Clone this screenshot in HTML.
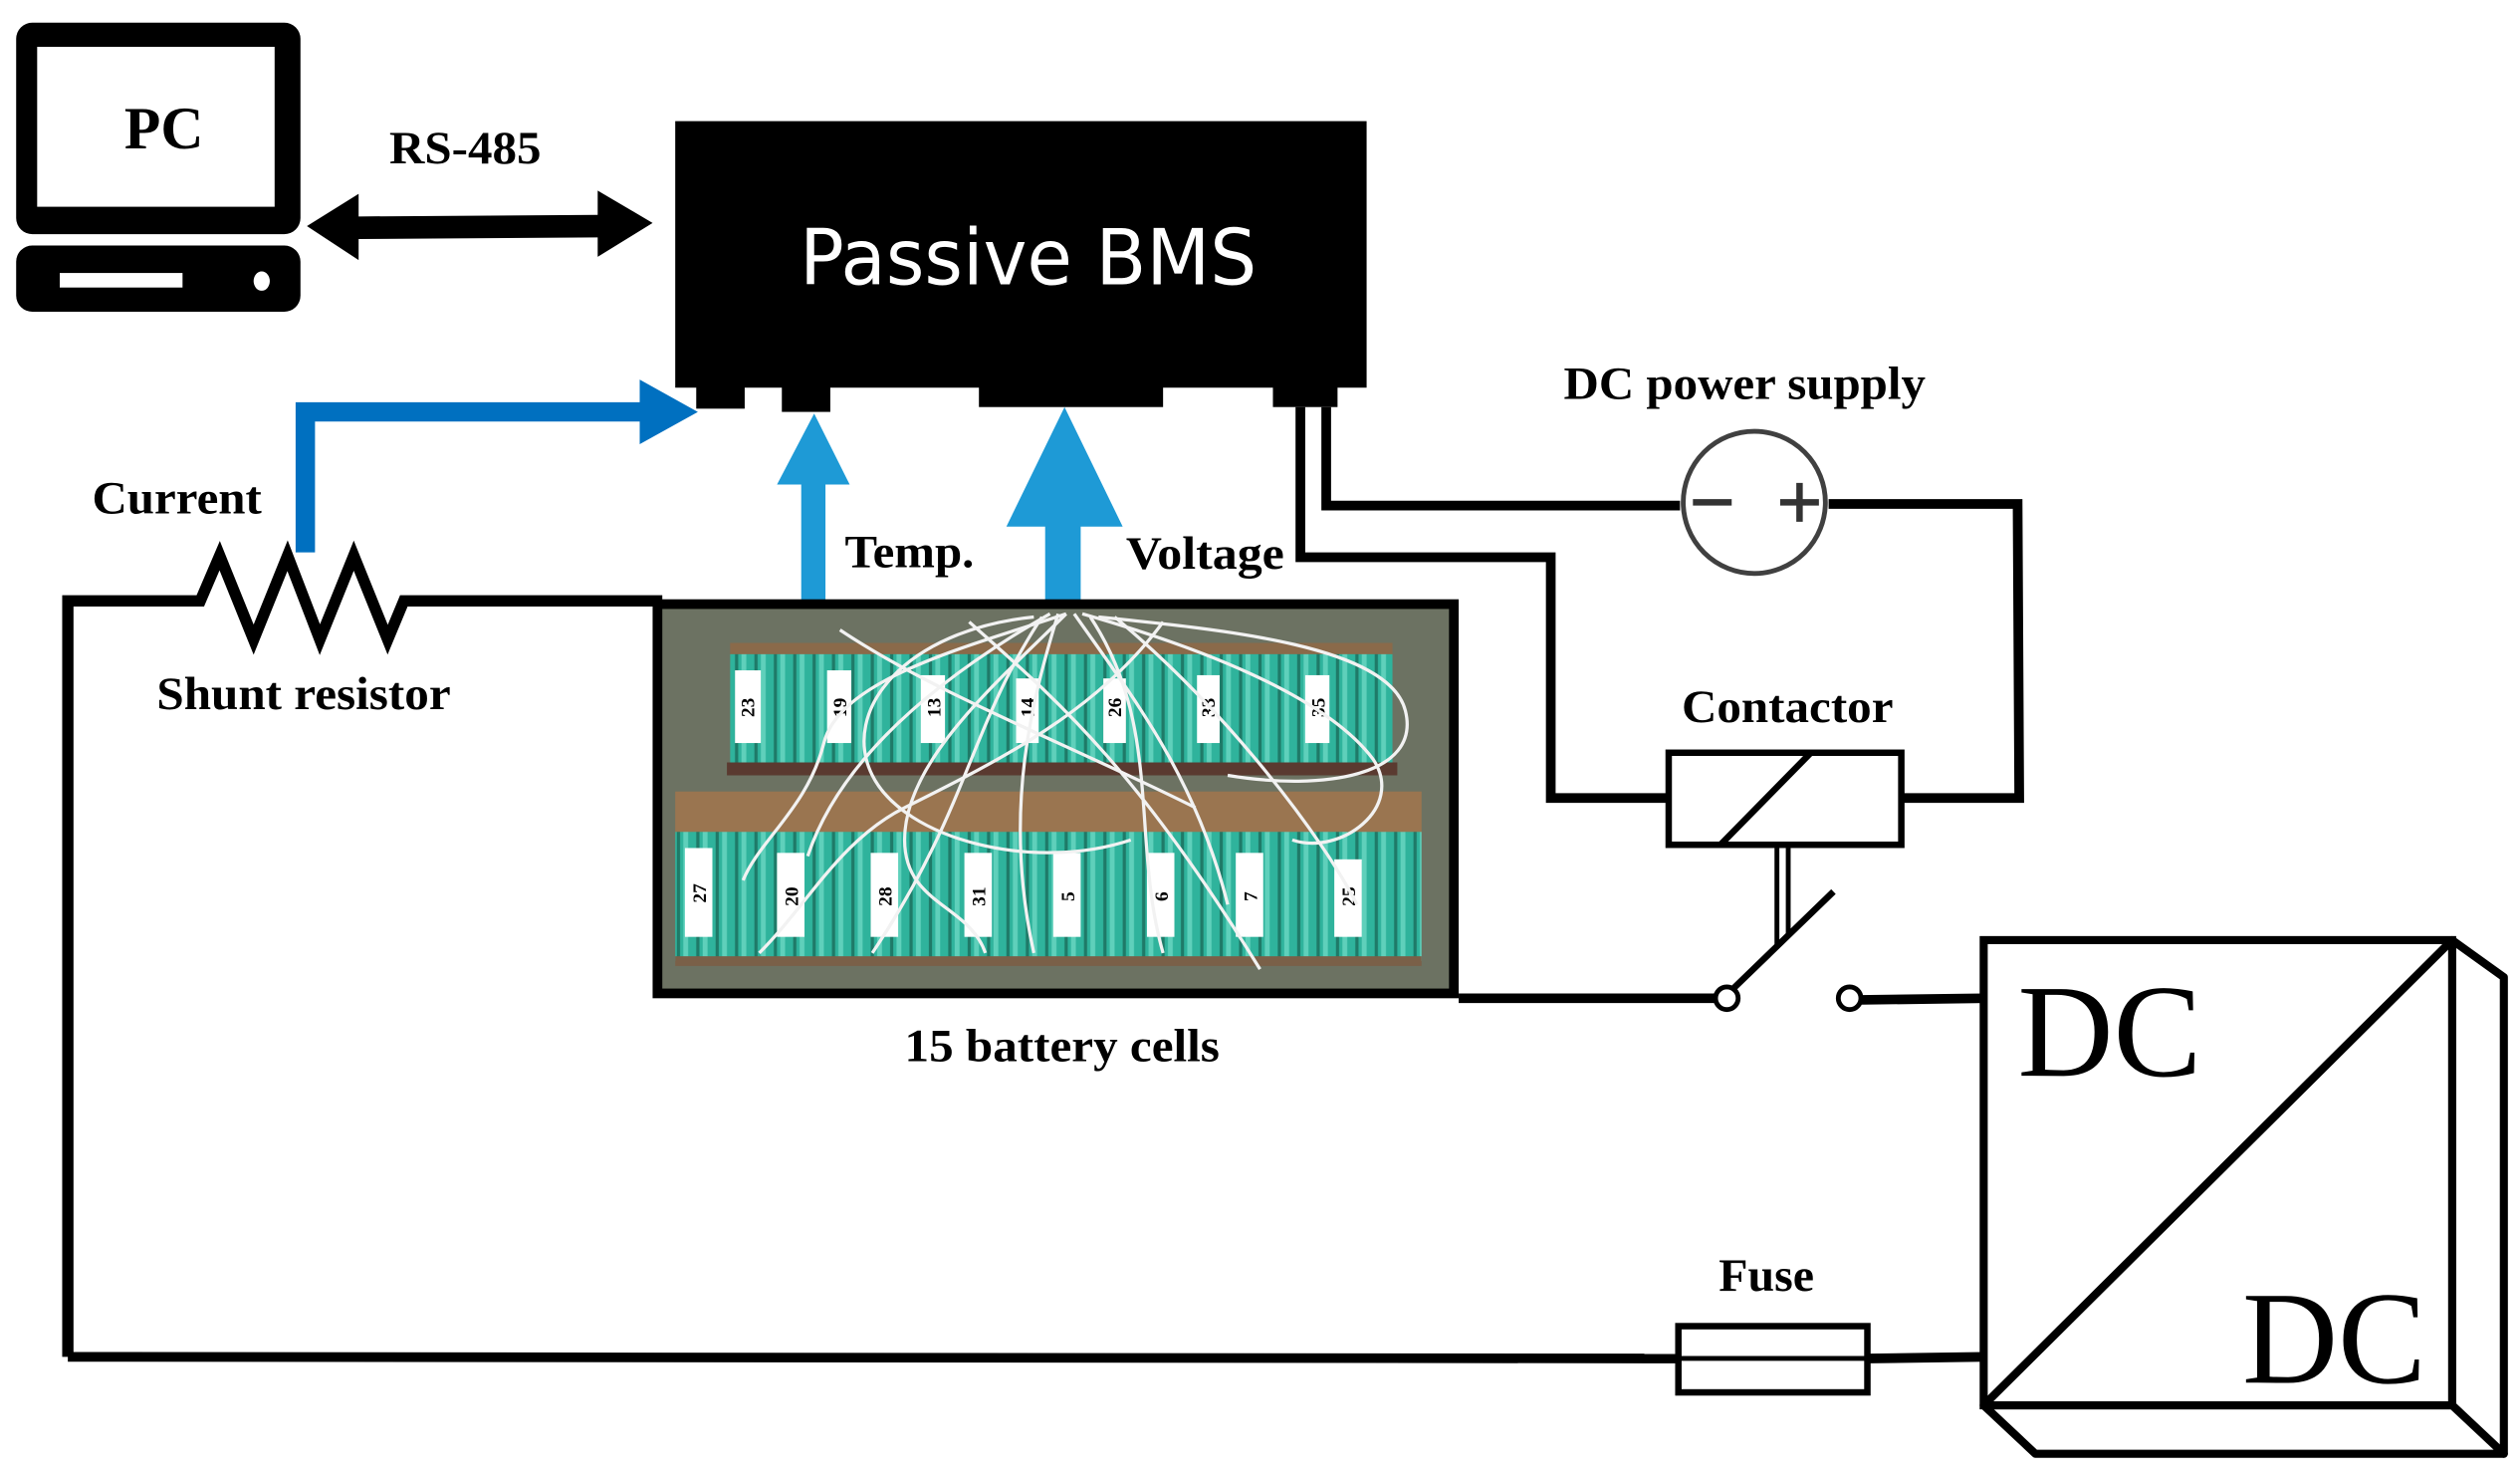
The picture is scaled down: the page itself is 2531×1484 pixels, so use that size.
<!DOCTYPE html>
<html><head><meta charset="utf-8"><style>
html,body{margin:0;padding:0;background:#fff;}
svg{display:block;}
text{font-family:"Liberation Serif",serif;font-weight:bold;fill:#000;}
</style></head><body>
<svg width="2531" height="1484" viewBox="0 0 1560 915" preserveAspectRatio="none" xmlns="http://www.w3.org/2000/svg">
<defs>
<pattern id="cellsT" x="0" y="0" width="12" height="100" patternUnits="userSpaceOnUse">
<rect x="0" y="0" width="12" height="100" fill="#1f7a68"/>
<rect x="1" y="0" width="10" height="100" fill="#2fb39c"/>
<rect x="3" y="0" width="3" height="100" fill="#5fd0bb"/>
</pattern>
</defs>
<rect width="1560" height="915" fill="#fff"/>
<!-- PC -->
<rect x="10" y="14" width="176" height="131" rx="10" fill="#000"/>
<rect x="23" y="29" width="147" height="99" fill="#fff"/>
<rect x="10" y="152" width="176" height="41" rx="10" fill="#000"/>
<rect x="37" y="169" width="76" height="9" fill="#fff"/>
<ellipse cx="162" cy="174" rx="5" ry="6" fill="#fff"/>
<text x="77" y="92" font-size="37" textLength="49" lengthAdjust="spacingAndGlyphs">PC</text>
<text x="241" y="101" font-size="29" textLength="94" lengthAdjust="spacingAndGlyphs">RS-485</text>
<!-- double arrow -->
<polygon points="190,140 222,120 222,134 370,133 370,118 404,138 370,159 370,147 222,148 222,161" fill="#000"/>
<!-- BMS -->
<rect x="418" y="75" width="428" height="165" fill="#000"/>
<rect x="431" y="238" width="30" height="15" fill="#000"/>
<rect x="484" y="238" width="30" height="17" fill="#000"/>
<rect x="606" y="238" width="114" height="14" fill="#000"/>
<rect x="788" y="238" width="40" height="14" fill="#000"/>
<text x="495" y="176" font-size="48" textLength="283" lengthAdjust="spacingAndGlyphs" style="font-family:'DejaVu Sans','Liberation Sans',sans-serif;font-weight:normal;fill:#fff">Passive BMS</text>
<!-- current arrow -->
<polyline points="189,342 189,255 398,255" fill="none" stroke="#0070c0" stroke-width="12"/>
<polygon points="396,235 432,255 396,275" fill="#0070c0"/>
<!-- temp arrow -->
<rect x="496" y="298" width="15" height="74" fill="#1e9ad6"/>
<polygon points="481,300 504,256 526,300" fill="#1e9ad6"/>
<!-- voltage arrow -->
<rect x="647" y="322" width="22" height="50" fill="#1e9ad6"/>
<polygon points="623,326 659,252 695,326" fill="#1e9ad6"/>
<text x="57" y="318" font-size="29" textLength="105" lengthAdjust="spacingAndGlyphs">Current</text>
<text x="523" y="351" font-size="29" textLength="80" lengthAdjust="spacingAndGlyphs">Temp.</text>
<text x="697" y="352" font-size="29" textLength="98" lengthAdjust="spacingAndGlyphs">Voltage</text>
<text x="97" y="439" font-size="29" textLength="182" lengthAdjust="spacingAndGlyphs">Shunt resistor</text>
<text x="560" y="657" font-size="29" textLength="195" lengthAdjust="spacingAndGlyphs">15 battery cells</text>
<text x="968" y="247" font-size="29" textLength="224" lengthAdjust="spacingAndGlyphs">DC power supply</text>
<text x="1041" y="447" font-size="29" textLength="131" lengthAdjust="spacingAndGlyphs">Contactor</text>
<text x="1064" y="799" font-size="29" textLength="59" lengthAdjust="spacingAndGlyphs">Fuse</text>
<!-- left loop + shunt -->
<polyline points="42,840 42,372 124,372 136,344 157,396 178,344 198,396 219,344 240,396 250,372 410,372" fill="none" stroke="#000" stroke-width="7" stroke-linejoin="miter"/>
<!-- fuse wire -->
<line x1="42" y1="840" x2="1038" y2="841" stroke="#000" stroke-width="6"/>
<line x1="1157" y1="841" x2="1228" y2="840" stroke="#000" stroke-width="6"/>
<rect x="1039" y="821" width="117" height="41" fill="#fff" stroke="#000" stroke-width="4"/>
<line x1="1039" y1="841" x2="1156" y2="841" stroke="#000" stroke-width="3"/>
<!-- BMS wires -->
<polyline points="805,252 805,345 960,345 960,494 1033,494" fill="none" stroke="#000" stroke-width="6"/>
<polyline points="821,252 821,313 1040,313" fill="none" stroke="#000" stroke-width="6"/>
<polyline points="1132,312 1249,312 1250,494 1177,494" fill="none" stroke="#000" stroke-width="6"/>
<circle cx="1086" cy="311" r="44" fill="#fff" stroke="#404040" stroke-width="3"/>
<line x1="1048" y1="311" x2="1072" y2="311" stroke="#333" stroke-width="4"/>
<line x1="1102" y1="311" x2="1126" y2="311" stroke="#333" stroke-width="4"/>
<line x1="1114" y1="299" x2="1114" y2="323" stroke="#333" stroke-width="4"/>
<!-- contactor -->
<rect x="1033" y="466" width="144" height="57" fill="#fff" stroke="#000" stroke-width="4"/>
<line x1="1065" y1="523" x2="1121" y2="466" stroke="#000" stroke-width="4"/>
<line x1="1100" y1="525" x2="1100" y2="585" stroke="#000" stroke-width="3"/>
<line x1="1107" y1="525" x2="1107" y2="580" stroke="#000" stroke-width="3"/>
<line x1="1073" y1="612" x2="1135" y2="552" stroke="#000" stroke-width="4"/>
<line x1="903" y1="618" x2="1062" y2="618" stroke="#000" stroke-width="6"/>
<line x1="1152" y1="619" x2="1228" y2="618" stroke="#000" stroke-width="6"/>
<circle cx="1069" cy="618" r="7" fill="#fff" stroke="#000" stroke-width="3"/>
<circle cx="1145" cy="618" r="7" fill="#fff" stroke="#000" stroke-width="3"/>
<!-- DC/DC -->
<polygon points="1518,582 1550,605 1550,900 1518,870" fill="#fff" stroke="#000" stroke-width="5" stroke-linejoin="round"/>
<polygon points="1228,870 1518,870 1550,900 1260,900" fill="#fff" stroke="#000" stroke-width="5" stroke-linejoin="round"/>
<rect x="1228" y="582" width="290" height="288" fill="#fff" stroke="#000" stroke-width="5"/>
<line x1="1228" y1="870" x2="1518" y2="582" stroke="#000" stroke-width="5"/>
<text x="1306" y="666" font-size="82" text-anchor="middle" style="font-weight:normal">DC</text>
<text x="1445" y="856" font-size="82" text-anchor="middle" style="font-weight:normal">DC</text>
<!-- battery photo -->
<rect x="404" y="371" width="499" height="247" fill="#000"/>
<rect x="410" y="377" width="487" height="235" fill="#6c7262"/>
<rect x="452" y="398" width="410" height="12" fill="#8a6a4a"/>
<rect x="452" y="405" width="410" height="70" fill="url(#cellsT)"/>
<rect x="450" y="472" width="415" height="8" fill="#5a3a30"/>
<rect x="418" y="490" width="462" height="30" fill="#9a7550"/>
<rect x="418" y="515" width="462" height="80" fill="url(#cellsT)"/>
<rect x="418" y="592" width="462" height="6" fill="#7a6048"/>
<g fill="#fff">
<rect x="455" y="415" width="16" height="45"/><rect x="512" y="415" width="15" height="45"/><rect x="570" y="418" width="15" height="42"/>
<rect x="629" y="420" width="14" height="40"/><rect x="683" y="420" width="14" height="40"/><rect x="741" y="418" width="14" height="42"/><rect x="808" y="418" width="15" height="42"/>
<rect x="424" y="525" width="17" height="55"/><rect x="481" y="528" width="17" height="52"/><rect x="539" y="528" width="17" height="52"/><rect x="597" y="528" width="17" height="52"/>
<rect x="652" y="528" width="17" height="52"/><rect x="710" y="528" width="17" height="52"/><rect x="765" y="528" width="17" height="52"/><rect x="826" y="532" width="17" height="48"/>
</g>
<g font-size="12" style="font-family:'Liberation Sans',sans-serif;font-weight:normal">
<text transform="translate(467,438) rotate(-90)" text-anchor="middle">23</text>
<text transform="translate(524,438) rotate(-90)" text-anchor="middle">19</text>
<text transform="translate(582,438) rotate(-90)" text-anchor="middle">13</text>
<text transform="translate(640,438) rotate(-90)" text-anchor="middle">14</text>
<text transform="translate(694,438) rotate(-90)" text-anchor="middle">26</text>
<text transform="translate(752,438) rotate(-90)" text-anchor="middle">33</text>
<text transform="translate(820,438) rotate(-90)" text-anchor="middle">35</text>
<text transform="translate(437,553) rotate(-90)" text-anchor="middle">27</text>
<text transform="translate(494,555) rotate(-90)" text-anchor="middle">20</text>
<text transform="translate(552,555) rotate(-90)" text-anchor="middle">28</text>
<text transform="translate(610,555) rotate(-90)" text-anchor="middle">31</text>
<text transform="translate(665,555) rotate(-90)" text-anchor="middle">5</text>
<text transform="translate(723,555) rotate(-90)" text-anchor="middle">6</text>
<text transform="translate(778,555) rotate(-90)" text-anchor="middle">7</text>
<text transform="translate(839,555) rotate(-90)" text-anchor="middle">25</text>
</g>
<g fill="none" stroke="#f2f2f2" stroke-width="2">
<path d="M660,380 C600,400 520,420 510,460 C500,500 470,520 460,545"/>
<path d="M650,380 C580,420 520,470 500,530"/>
<path d="M655,380 C640,430 620,500 640,590"/>
<path d="M665,380 C700,430 740,480 760,560"/>
<path d="M670,380 C740,400 820,430 850,470 C870,500 830,530 800,520"/>
<path d="M660,380 C620,420 560,470 560,520 C560,560 600,560 610,590"/>
<path d="M640,382 C560,390 520,440 540,480 C560,520 640,540 700,520"/>
<path d="M680,382 C760,390 860,400 870,440 C880,480 820,490 760,480"/>
<path d="M675,382 C720,450 700,520 720,590"/>
<path d="M645,382 C600,450 600,500 540,590"/>
<path d="M690,382 C760,440 820,520 840,560"/>
<path d="M600,385 C650,430 700,470 780,600"/>
<path d="M720,385 C680,440 620,470 560,500 C520,520 500,560 470,590"/>
<path d="M520,390 C580,430 660,460 740,500"/>
</g>
</svg>
</body></html>
